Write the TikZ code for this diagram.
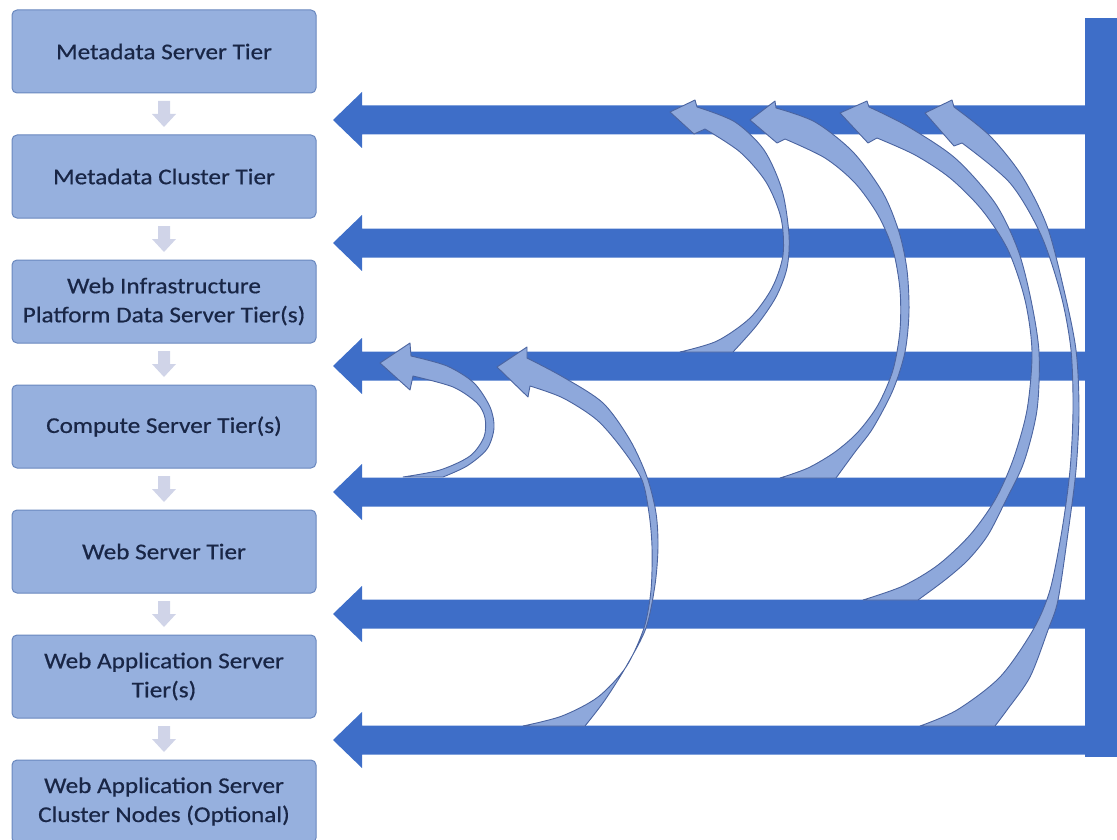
\documentclass[tikz,border=0pt]{standalone}
\usepackage{fontspec}
\setmainfont{Carlito}[FakeStretch=1.12,FakeBold=0.6]
\definecolor{bigblue}{RGB}{62,110,200}
\definecolor{curvefill}{RGB}{142,168,219}
\definecolor{curveline}{RGB}{75,100,160}
\definecolor{boxfill}{RGB}{150,176,222}
\definecolor{boxline}{RGB}{105,135,190}
\definecolor{boxtext}{RGB}{25,38,70}
\definecolor{smallarrow}{RGB}{208,212,232}
\tikzset{
  tier/.style={draw=boxline, fill=boxfill, rounded corners=5pt, line width=1pt,
    minimum width=304pt, minimum height=83pt, inner sep=0pt, align=center,
    text=boxtext, font=\fontsize{22.5}{29}\selectfont},
  curved/.style={fill=curvefill, draw=curveline, line width=0.9pt, line join=round},
  bigarrow/.pic={\fill[bigblue] (0,0) -- (29,-28) -- (29,-14.5) -- (752,-14.5) -- (752,14.5) -- (29,14.5) -- (29,28) -- cycle;},
  downarrow/.style={fill=smallarrow}
}
\begin{document}
\begin{tikzpicture}[x=1pt,y=-1pt]
\useasboundingbox (0,0) rectangle (1117,840);
% tier boxes
\node[tier] (b1) at (164,51.5) {Metadata Server Tier};
\node[tier] (b2) at (164,176.5) {Metadata Cluster Tier};
\node[tier] (b3) at (164,301.5) {Web Infrastructure\\Platform Data Server Tier(s)};
\node[tier] (b4) at (164,426.5) {Compute Server Tier(s)};
\node[tier] (b5) at (164,551.5) {Web Server Tier};
\node[tier] (b6) at (164,676.5) {Web Application Server\\Tier(s)};
\node[tier] (b7) at (164,801.5) {Web Application Server\\Cluster Nodes (Optional)};
% small down arrows
\foreach \a/\b in {b1/b2,b2/b3,b3/b4,b4/b5,b5/b6,b6/b7}{
  \path (\a.south) -- (\b.north) coordinate[midway] (m\a);
  \fill[downarrow] (m\a) ++(-6,-13) -- ++(12,0) -- ++(0,13) -- ++(6,0) -- ++(-12,13) -- ++(-12,-13) -- ++(6,0) -- cycle;
}
% horizontal arrows
\foreach \y [count=\i] in {120,243,366,492,614,740}{
  \coordinate (h\i) at (333,\y);
  \pic at (h\i) {bigarrow};
}
% curved arrows
% A
\path[curved] plot[smooth] coordinates {(680,352) (717,341) (750,318) (772,288) (783,255) (781,218) (766,182) (740,152) (705,129)}
  -- (694,134) -- (670,112) -- (695,100)
  -- plot[smooth] coordinates {(697,107) (735,122) (764,150) (782,190) (789,235) (787,268) (776,297) (757,325) (733,352)} -- cycle;
% B
\path[curved] plot[smooth] coordinates {(780,478) (808,468) (835,452) (858,432) (878,405) (893,370) (900,330) (900,290) (893,250) (878,215) (855,183) (825,158) (785,139)}
  -- (777,143) -- (750,120) -- (775,101)
  -- plot[smooth] coordinates {(776,108) (815,122) (853,152) (883,193) (899,232) (907,270) (909,312) (905,352) (893,390) (873,428) (855,452) (836,478)} -- cycle;
% C
\path[curved] plot[smooth] coordinates {(863,600) (903,586) (938,565) (970,535) (995,500) (1013,460) (1027,410) (1032,352) (1025,300) (1008,250) (982,210) (950,178) (915,155) (877,138)}
  -- (868,143) -- (840,113) -- (867,101)
  -- plot[smooth] coordinates {(869,107) (907,126) (955,158) (995,203) (1018,250) (1031,300) (1039,352) (1037,410) (1024,462) (1006,500) (988,535) (968,560) (945,580) (918,600)} -- cycle;
% D
\path[curved] plot[smooth] coordinates {(920,726) (957,710) (1000,677) (1033,630) (1050,590) (1062,530) (1070,470) (1073,410) (1071,350) (1061,295) (1041,235) (1010,183) (962,143)}
  -- (954,146) -- (925,113) -- (952,100)
  -- plot[smooth] coordinates {(954,107) (990,136) (1022,176) (1047,226) (1064,290) (1076,350) (1079,410) (1076,470) (1068,533) (1058,600) (1048,630) (1030,677) (1007,710) (995,726)} -- cycle;
% E
\path[curved] plot[smooth] coordinates {(403,477) (440,470) (470,456) (484,437) (485,418) (477,403) (453,387) (413,376)}
  -- (410,390) -- (380,363) -- (410,343)
  -- plot[smooth] coordinates {(411,356) (447,366) (474,383) (490,407) (494,428) (487,449) (467,466) (443,477)} -- cycle;
% F
\path[curved] plot[smooth] coordinates {(523,726) (562,716) (598,697) (626,667) (644,628) (651,590) (652,547) (649,513) (642,480) (623,450) (597,420) (563,398) (530,386)}
  -- (528,397) -- (497,367) -- (527,347)
  -- plot[smooth] coordinates {(527,358) (563,377) (603,403) (630,440) (647,477) (656,513) (658,547) (655,585) (646,628) (627,665) (605,700) (585,726)} -- cycle;
% right bar
\fill[bigblue] (1085,18) rectangle (1117,757);
\end{tikzpicture}
\end{document}
